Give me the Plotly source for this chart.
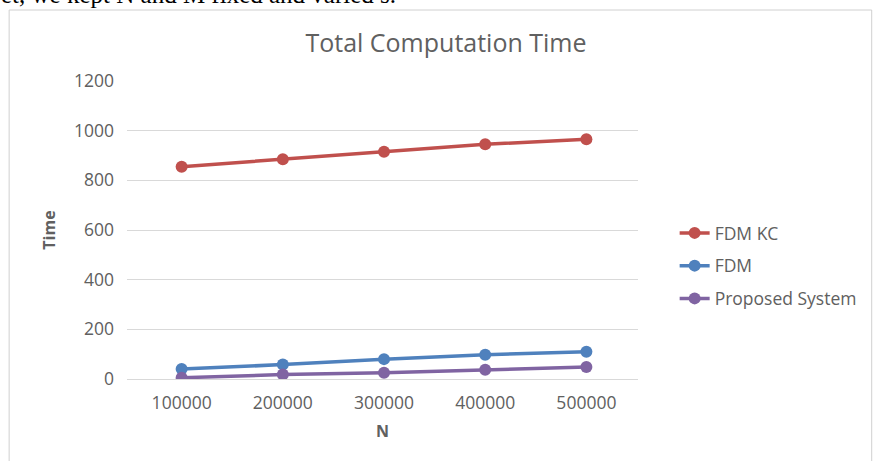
import plotly.graph_objects as go

# Problem sizes and measured total computation times
n_values = ["100000", "200000", "300000", "400000", "500000"]
fdm_kc = [855, 885, 915, 945, 965]
fdm = [40, 58, 80, 98, 110]
proposed = [5, 18, 25, 37, 48]

y_ticks = [0, 200, 400, 600, 800, 1000, 1200]

W, H = 874, 461
L, R, T, B = 127, 231, 81, 82
FONT = "Open Sans"
GREY = "#606060"

series = [
    ("FDM KC", fdm_kc, "#C0504D"),
    ("FDM", fdm, "#4F81BD"),
    ("Proposed System", proposed, "#8064A2"),
]

fig = go.Figure()
for i, (name, vals, col) in enumerate(series):
    fig.add_trace(go.Scatter(
        x=n_values, y=vals, name=name, mode="lines+markers",
        line=dict(color=col, width=3.5),
        marker=dict(color=col, size=12),
        legendgroup=f"g{i}",
    ))

pw, ph = W - L - R, H - T - B
def px(x):
    return (x - L) / pw
def py(y):
    return (H - B - y) / ph

fig.update_layout(
    width=W, height=H,
    margin=dict(l=L, r=R, t=T, b=B),
    paper_bgcolor="white", plot_bgcolor="white",
    font=dict(family=FONT, size=17.5, color=GREY),
    title=dict(text="Total Computation Time", x=446 / W, xanchor="center",
               y=1 - 43 / H, yanchor="middle",
               font=dict(size=25, color=GREY, family=FONT)),
    xaxis=dict(type="category", range=[-0.54, 4.51], showgrid=False,
               showline=True, linecolor="#D9D9D9", linewidth=1,
               ticks="", ticklabelstandoff=8, tickfont=dict(size=17.5, color=GREY),
               title=dict(text="<b>N</b>", font=dict(size=16, color=GREY), standoff=12)),
    yaxis=dict(range=[0, 1200], tickvals=y_ticks, showgrid=True,
               gridcolor="#D9D9D9", gridwidth=1, zeroline=False, showline=False,
               ticks="", ticklabelstandoff=12, tickfont=dict(size=17.5, color=GREY),
               title=dict(text="<b>Time</b>", font=dict(size=16, color=GREY), standoff=14)),
    legend=dict(x=px(680), y=py(215), xanchor="left", yanchor="top",
                font=dict(size=17.5, color=GREY), tracegroupgap=7,
                bgcolor="rgba(0,0,0,0)"),
    shapes=[dict(type="rect", xref="paper", yref="paper",
                 x0=px(8), x1=px(W + 5), y0=py(H + 5), y1=py(10),
                 line=dict(color="#D0D0D0", width=1), layer="below")],
    annotations=[dict(text="et, we kept N and M fixed and varied s.",
                      xref="paper", yref="paper", x=px(-2), y=py(10),
                      xanchor="left", yanchor="bottom", showarrow=False,
                      font=dict(family="Liberation Serif", size=25, color="#000000"))],
)

fig.write_html("out.html")
